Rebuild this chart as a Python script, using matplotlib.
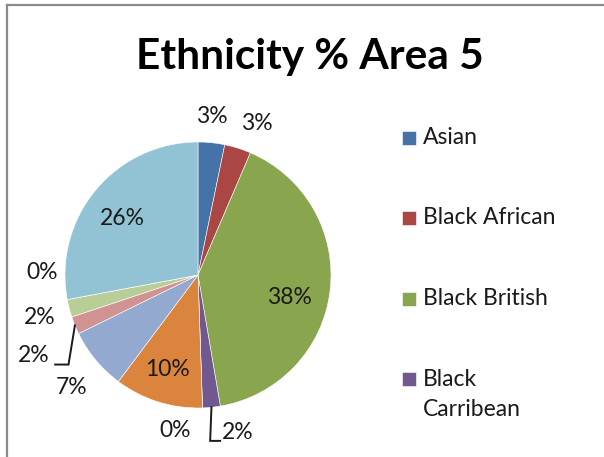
import numpy as np
import matplotlib
matplotlib.use("Agg")
import matplotlib.pyplot as plt
from matplotlib.patches import Rectangle
from matplotlib.lines import Line2D

# ---- data ----
categories = ["Asian", "Black African", "Black British", "Black Carribean",
              "Black Other", "Chinese", "Mixed", "Other", "White British",
              "White Irish", "White Other"]
values = [3, 3, 38, 2, 0, 10, 7, 2, 2, 0, 26]
legend_labels = ["Asian", "Black African", "Black British", "Black\nCarribean"]
colors = ["#4572A7", "#AA4643", "#89A54E", "#71588F", "#4198AF", "#DB843D",
          "#93A9CF", "#D19392", "#B9CD96", "#A99BBD", "#92C3D4"]

# label placement style: (radius, angle nudge in degrees)
label_pos = [(1.20, 0.8), (1.22, -3.7), (0.71, -7.0), (1.22, 8.5), (1.18, -10.2),
             (0.75, -0.6), (1.27, 2.1), (1.38, 3.9), (1.23, 0.5), (1.17, -11.6),
             (0.71, 2.7)]
leaders = {3: (-0.21, -0.135), 7: (0.265, 0.165)}

W, H = 604, 457
fig = plt.figure(figsize=(W / 100, H / 100), dpi=100)
fig.patch.set_facecolor("white")
FONT = "Lato"
FS = 16.5
TXT = "#1a1a1a"

# chart border (cropped frame)
fig.add_artist(Line2D([7 / W, 7 / W], [0, 1 - 5 / H], color="#8a8a8a", lw=1.6,
                      transform=fig.transFigure))
fig.add_artist(Line2D([7 / W, 1], [1 - 5 / H, 1 - 5 / H], color="#8a8a8a", lw=1.6,
                      transform=fig.transFigure))

fig.text(310 / W, 1 - 57 / H, "Ethnicity % Area 5", ha="center", va="center",
         fontsize=30.5, fontweight="bold", family=FONT, color="black")

# pie axes: center (198,275) px, radius 133 px, limits +-1.5
R = 133
cx, cy = 198, 275
size = 3 * R
ax = fig.add_axes([(cx - size / 2) / W, (H - cy - size / 2) / H, size / W, size / H])

wedges, _ = ax.pie(values, colors=colors, startangle=90, counterclock=False,
                   radius=1.0, wedgeprops=dict(edgecolor="white", linewidth=0.4))
ax.set_xlim(-1.5, 1.5)
ax.set_ylim(-1.5, 1.5)
ax.axis("off")

for i, (w, v) in enumerate(zip(wedges, values)):
    mid = (w.theta1 + w.theta2) / 2
    r, nudge = label_pos[i]
    a = np.deg2rad(mid + nudge)
    lx, ly = r * np.cos(a), r * np.sin(a)
    ax.text(lx, ly, f"{v}%", ha="center", va="center", fontsize=FS,
            family=FONT, color=TXT, clip_on=False)
    if i in leaders:
        dx_elbow, dx_end = leaders[i]
        am = np.deg2rad(mid)
        sx, sy = np.cos(am), np.sin(am)
        yl = ly - 0.065
        ax.plot([sx, lx + dx_elbow, lx + dx_end], [sy, yl, yl], color=TXT,
                lw=1.4, clip_on=False, solid_joinstyle="miter")

# legend (first four entries visible in the cropped chart)
leg_x, leg_y0, leg_step = 402, 137.5, 80.5
for i, lab in enumerate(legend_labels):
    y = leg_y0 + i * leg_step
    fig.add_artist(Rectangle((leg_x / W, 1 - (y + 7) / H), 14 / W, 14 / H,
                             facecolor=wedges[i].get_facecolor(), edgecolor="white",
                             lw=0.4, transform=fig.transFigure))
    lines = lab.split("\n")
    for j, line in enumerate(lines):
        fig.text((leg_x + 21) / W, 1 - (y + 31 * j) / H, line, ha="left",
                 va="center", fontsize=FS, family=FONT, color=TXT)

fig.savefig("out.png", dpi=100)
